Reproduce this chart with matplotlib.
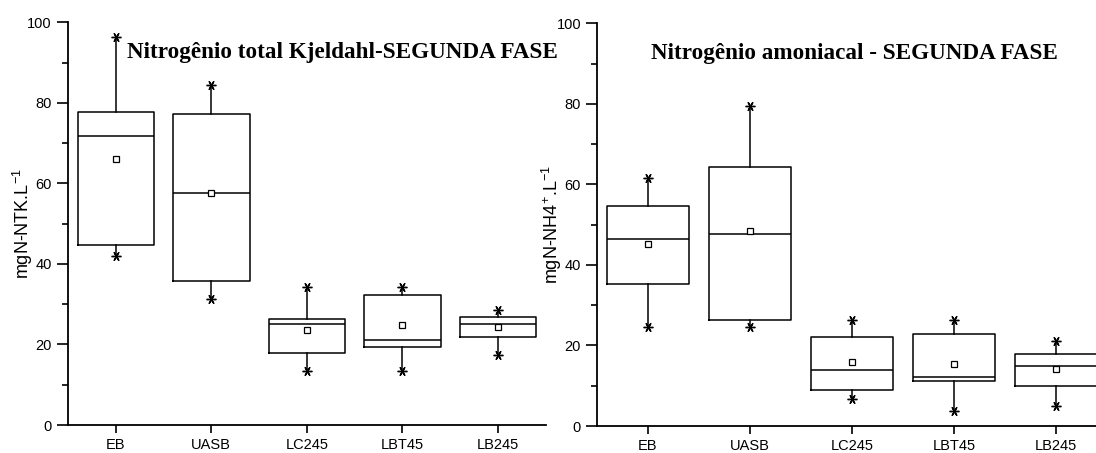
import matplotlib.pyplot as plt
from matplotlib.ticker import MultipleLocator

plt.rcParams['font.family'] = ['Liberation Sans', 'DejaVu Sans']
plt.rcParams['mathtext.fontset'] = 'custom'
plt.rcParams['mathtext.rm'] = 'Liberation Sans'
plt.rcParams['mathtext.default'] = 'regular'

grupos = ['EB', 'UASB', 'LC245', 'LBT45', 'LB245']

# NTK - segunda fase
ntk_min = [41.9, 31.3, 13.4, 13.4, 17.4]
ntk_q1 = [44.8, 35.8, 17.8, 19.4, 21.8]
ntk_med = [71.7, 57.6, 25.2, 21.2, 25.2]
ntk_media = [66.0, 57.5, 23.6, 24.8, 24.4]
ntk_q3 = [77.8, 77.3, 26.3, 32.4, 26.9]
ntk_max = [96.4, 84.5, 34.2, 34.2, 28.5]

# Nitrogênio amoniacal - segunda fase
nh4_min = [24.7, 24.7, 6.6, 3.8, 5.0]
nh4_q1 = [35.2, 26.3, 8.9, 11.2, 10.0]
nh4_med = [46.4, 47.6, 13.9, 12.2, 15.0]
nh4_media = [45.2, 48.3, 16.0, 15.4, 14.2]
nh4_q3 = [54.7, 64.4, 22.2, 22.9, 17.8]
nh4_max = [61.5, 79.5, 26.2, 26.2, 21.2]


def monta_stats(mn, q1, med, media, q3, mx):
    stats = []
    for i in range(len(grupos)):
        stats.append({'label': grupos[i], 'whislo': mn[i], 'q1': q1[i],
                      'med': med[i], 'mean': media[i], 'q3': q3[i],
                      'whishi': mx[i], 'fliers': [mn[i], mx[i]]})
    return stats


def desenha(ax, stats, titulo, ylabel, tx, ty, lx):
    lw = 1.1
    ax.bxp(stats, positions=range(1, 6), widths=0.8, showmeans=True,
           showcaps=False,
           boxprops=dict(color='black', linewidth=lw),
           medianprops=dict(color='black', linewidth=lw),
           whiskerprops=dict(color='black', linewidth=lw),
           meanprops=dict(marker='s', markersize=4, markerfacecolor='white',
                          markeredgecolor='black', markeredgewidth=0.9),
           flierprops=dict(marker=(6, 2, 90), markersize=7,
                           markeredgecolor='black', markeredgewidth=1.0))
    ax.set_xlim(0.5, 5.5)
    ax.set_ylim(0, 100)
    ax.yaxis.set_major_locator(MultipleLocator(20))
    ax.yaxis.set_minor_locator(MultipleLocator(10))
    ax.spines['top'].set_visible(False)
    ax.spines['right'].set_visible(False)
    ax.spines['left'].set_linewidth(1.3)
    ax.spines['bottom'].set_linewidth(1.3)
    ax.tick_params(axis='y', which='major', direction='out', length=8,
                   width=1.2, labelsize=10.5)
    ax.tick_params(axis='y', which='minor', direction='out', length=4,
                   width=1.2)
    ax.tick_params(axis='x', direction='out', length=6, width=1.2,
                   labelsize=10.5)
    ax.set_ylabel(ylabel, fontsize=13)
    ax.yaxis.set_label_coords(lx, 0.5)
    ax.text(tx, ty, titulo, transform=ax.transAxes, ha='center',
            va='center', fontsize=16.7, fontweight='bold',
            family=['Liberation Serif', 'DejaVu Serif'], clip_on=False)


fig = plt.figure(figsize=(10.96, 4.53), dpi=100)
ax1 = fig.add_axes([0.062, 0.0618, 0.436, 0.889])
ax2 = fig.add_axes([0.5447, 0.0596, 0.4653, 0.889])

desenha(ax1, monta_stats(ntk_min, ntk_q1, ntk_med, ntk_media, ntk_q3, ntk_max),
        'Nitrogênio total Kjeldahl-SEGUNDA FASE', 'mgN-NTK.L$^{-1}$',
        0.575, 0.925, -0.069)
desenha(ax2, monta_stats(nh4_min, nh4_q1, nh4_med, nh4_media, nh4_q3, nh4_max),
        'Nitrogênio amoniacal - SEGUNDA FASE', 'mgN-NH4$^{+}$.L$^{-1}$',
        0.505, 0.925, -0.065)

fig.savefig('out.png', dpi=100)
